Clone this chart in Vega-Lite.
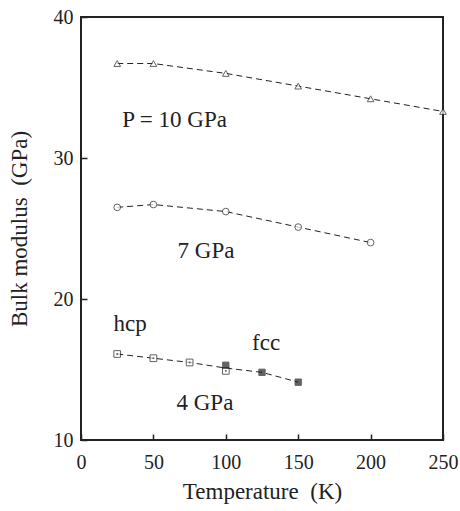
{
  "$schema": "https://vega.github.io/schema/vega-lite/v6.json",
  "width": 362,
  "height": 423,
  "autosize": {"type": "none"},
  "padding": {"left": 81, "top": 17, "right": 17, "bottom": 71},
  "background": "white",
  "config": {
    "view": {"stroke": "#222", "strokeWidth": 2},
    "font": "Liberation Serif",
    "axis": {
      "grid": false,
      "domain": false,
      "tickColor": "#222",
      "tickSize": -6,
      "tickWidth": 1.5,
      "labelFont": "Liberation Serif",
      "labelFontSize": 20,
      "labelColor": "#222",
      "labelFlush": false,
      "labelOverlap": false,
      "titleFont": "Liberation Serif",
      "titleFontSize": 23,
      "titleFontWeight": "normal",
      "titleColor": "#222"
    }
  },
  "datasets": {
    "pts": [
      {"T": 25, "B": 36.7, "s": "P10"},
      {"T": 50, "B": 36.7, "s": "P10"},
      {"T": 100, "B": 36.0, "s": "P10"},
      {"T": 150, "B": 35.1, "s": "P10"},
      {"T": 200, "B": 34.2, "s": "P10"},
      {"T": 250, "B": 33.3, "s": "P10"},
      {"T": 25, "B": 26.5, "s": "P7"},
      {"T": 50, "B": 26.7, "s": "P7"},
      {"T": 100, "B": 26.2, "s": "P7"},
      {"T": 150, "B": 25.1, "s": "P7"},
      {"T": 200, "B": 24.0, "s": "P7"},
      {"T": 25, "B": 16.1, "s": "hcp"},
      {"T": 50, "B": 15.8, "s": "hcp"},
      {"T": 75, "B": 15.5, "s": "hcp"},
      {"T": 100, "B": 14.9, "s": "hcp"},
      {"T": 100, "B": 15.3, "s": "fcc"},
      {"T": 125, "B": 14.8, "s": "fcc"},
      {"T": 150, "B": 14.1, "s": "fcc"}
    ],
    "lines": [
      {"T": 25, "B": 36.7, "s": "P10"},
      {"T": 50, "B": 36.7, "s": "P10"},
      {"T": 100, "B": 36.0, "s": "P10"},
      {"T": 150, "B": 35.1, "s": "P10"},
      {"T": 200, "B": 34.2, "s": "P10"},
      {"T": 250, "B": 33.3, "s": "P10"},
      {"T": 25, "B": 26.5, "s": "P7"},
      {"T": 50, "B": 26.7, "s": "P7"},
      {"T": 100, "B": 26.2, "s": "P7"},
      {"T": 150, "B": 25.1, "s": "P7"},
      {"T": 200, "B": 24.0, "s": "P7"},
      {"T": 25, "B": 16.1, "s": "P4"},
      {"T": 50, "B": 15.8, "s": "P4"},
      {"T": 75, "B": 15.5, "s": "P4"},
      {"T": 100, "B": 15.1, "s": "P4"},
      {"T": 125, "B": 14.8, "s": "P4"},
      {"T": 150, "B": 14.1, "s": "P4"}
    ],
    "labels": [
      {"T": 64.6, "B": 32.2, "label": "P = 10 GPa"},
      {"T": 86.3, "B": 22.9, "label": "7 GPa"},
      {"T": 34, "B": 17.73, "label": "hcp"},
      {"T": 127.8, "B": 16.38, "label": "fcc"},
      {"T": 85.6, "B": 12.13, "label": "4 GPa"}
    ]
  },
  "encoding": {
    "x": {
      "field": "T", "type": "quantitative",
      "scale": {"domain": [0, 250], "nice": false},
      "axis": {"values": [0, 50, 100, 150, 200, 250], "labelPadding": 18, "title": "Temperature \u00a0(K)", "titlePadding": 8}
    },
    "y": {
      "field": "B", "type": "quantitative",
      "scale": {"domain": [10, 40], "nice": false, "zero": false},
      "axis": {"values": [10, 20, 30, 40], "labelPadding": 14, "title": "Bulk modulus \u00a0(GPa)", "titlePadding": 22}
    }
  },
  "layer": [
    {
      "data": {"name": "lines"},
      "mark": {"type": "line", "color": "#222", "strokeWidth": 1, "strokeDash": [6, 4]},
      "encoding": {"detail": {"field": "s"}}
    },
    {
      "data": {"name": "pts"},
      "transform": [{"filter": "datum.s == 'P10'"}],
      "mark": {"type": "point", "shape": "triangle-up", "size": 45, "fill": "white", "filled": true, "stroke": "#222", "strokeWidth": 1}
    },
    {
      "data": {"name": "pts"},
      "transform": [{"filter": "datum.s == 'P7'"}],
      "mark": {"type": "point", "shape": "circle", "size": 45, "fill": "white", "filled": true, "stroke": "#222", "strokeWidth": 1}
    },
    {
      "data": {"name": "pts"},
      "transform": [{"filter": "datum.s == 'hcp'"}],
      "mark": {"type": "point", "shape": "square", "size": 45, "fill": "white", "filled": true, "stroke": "#222", "strokeWidth": 1}
    },
    {
      "data": {"name": "pts"},
      "transform": [{"filter": "datum.s == 'hcp'"}],
      "mark": {"type": "point", "shape": "square", "size": 3, "fill": "#222", "filled": true, "strokeWidth": 0}
    },
    {
      "data": {"name": "pts"},
      "transform": [{"filter": "datum.s == 'fcc'"}],
      "mark": {"type": "point", "shape": "square", "size": 40, "fill": "#222", "filled": true, "stroke": "#222", "strokeWidth": 1}
    },
    {
      "data": {"name": "labels"},
      "mark": {"type": "text", "font": "Liberation Serif", "fontSize": 23, "color": "#222", "align": "center", "baseline": "alphabetic"},
      "encoding": {"text": {"field": "label"}}
    }
  ]
}
